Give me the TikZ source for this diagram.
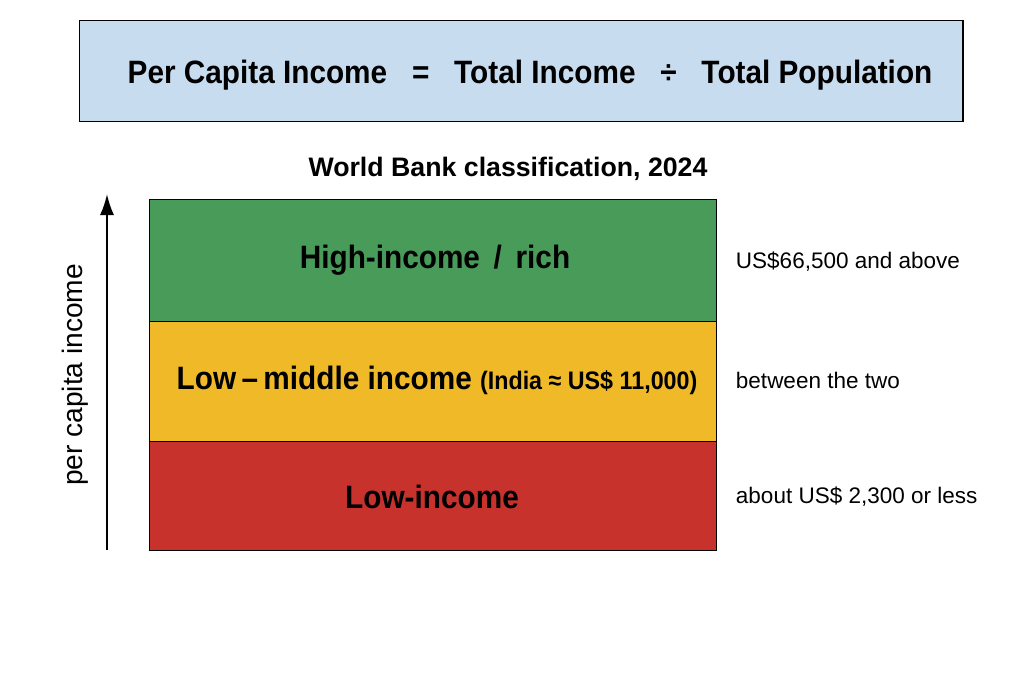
\documentclass[tikz,border=0pt]{standalone}
\usepackage{fontspec}
\setmainfont{Liberation Sans}
\newfontfamily\narrowfont[FakeStretch=0.92]{Liberation Sans}
\usetikzlibrary{arrows.meta}
\definecolor{boxblue}{RGB}{200,220,240}
\definecolor{richgreen}{RGB}{72,155,88}
\definecolor{midyellow}{RGB}{240,185,40}
\definecolor{lowred}{RGB}{200,50,45}
\tikzset{
  band/.style={draw=black, line width=0.9pt, minimum width=14.175cm, inner sep=0pt, anchor=north west},
  bandtext/.style={font=\narrowfont\bfseries\fontsize{23}{25}\selectfont},
  note/.style={font=\fontsize{16}{18}\selectfont, anchor=west}
}

\begin{document}
\begin{tikzpicture}[x=0.025cm, y=-0.025cm]
	%%%%% START %%%%%
	\useasboundingbox[fill=white] (0, 0) rectangle (1024, 683);
	
	% formula box
	\node[draw=black, line width=0.9pt, fill=boxblue, minimum width=22.075cm, minimum height=2.525cm, anchor=north west] (formula) at (79, 20) {};
	\node[font=\narrowfont\bfseries\fontsize{23}{25}\selectfont] (eqn) at (530, 75) {Per Capita Income \ \ = \ \ Total Income \ \ ÷ \ \ Total Population};
	
	\node[font=\bfseries\fontsize{19}{21}\selectfont] (title) at (508, 169) {World Bank classification, 2024};
	
	% income bands
	\node[band, fill=richgreen, minimum height=3.05cm] (high) at (149, 199) {};
	\node[band, fill=midyellow, minimum height=3cm] (middle) at (149, 321) {};
	\node[band, fill=lowred, minimum height=2.725cm] (low) at (149, 441) {};
	
	\node[bandtext] (hightext) at (435, 260) {High-income \,/\, rich};
	\node[bandtext] (midtext) at (437, 380) {Low\,–\,middle income {\fontsize{18}{20}\selectfont(India ≈ US\$ 11,000)}};
	\node[bandtext] (lowtext) at (432, 497) {Low-income};
	
	\node[note] (highnote) at (731, 262) {US\$66,500 and above};
	\node[note] (midnote) at (731, 380) {between the two};
	\node[note] (lownote) at (731, 497) {about US\$ 2,300 or less};
	
	% axis
	\coordinate (axisbot) at (107, 550);
	\coordinate (axistop) at (107, 194);
	\draw[line width=1.4pt, -{Latex[length=15pt, width=10pt]}] (axisbot) -- (axistop);
	\node[rotate=90, font=\fontsize{20}{22}\selectfont] (axislabel) at (75, 375) {per capita income};
	%%%%% END %%%%%
\end{tikzpicture}
\end{document}
